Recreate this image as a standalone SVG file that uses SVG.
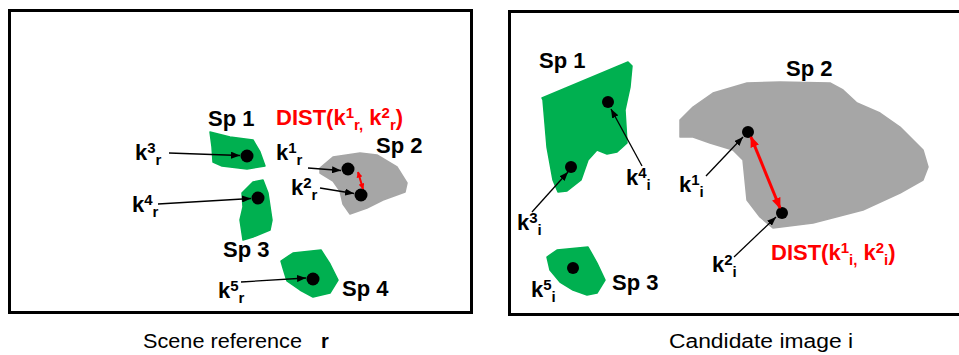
<svg xmlns="http://www.w3.org/2000/svg" width="959" height="355" viewBox="0 0 959 355">
<defs>
<style>
.frame{fill:none;stroke:#000;stroke-width:3}
.green{fill:#00B050;stroke:#00B050;stroke-width:1.5;stroke-linejoin:round}
.gray{fill:#A6A6A6;stroke:#A6A6A6;stroke-width:1.5;stroke-linejoin:round}
.dot{fill:#000}
.lbl{font-family:"Liberation Sans",Arial,sans-serif;font-weight:bold;font-size:22px;fill:#000}
.red{fill:#FF0000}
.s{font-size:15px}
.cap{font-family:"Liberation Sans",Arial,sans-serif;font-size:20px;fill:#000}
.ptr{stroke:#000;stroke-width:1.3;fill:none;marker-end:url(#ah)}
.dist{stroke:#FF0000;fill:none}
</style>
<marker id="ah" markerUnits="userSpaceOnUse" viewBox="0 0 9 7" markerWidth="9" markerHeight="7" refX="9" refY="3.5" orient="auto"><path d="M0,0 L9,3.5 L0,7 z" fill="#000"/></marker>
<marker id="rah" markerUnits="userSpaceOnUse" viewBox="0 0 11 9" markerWidth="11" markerHeight="9" refX="10" refY="4.5" orient="auto-start-reverse"><path d="M0,0 L11,4.5 L0,9 z" fill="#FF0000"/></marker>
<marker id="rahs" markerUnits="userSpaceOnUse" viewBox="0 0 6 6" markerWidth="6" markerHeight="6" refX="5.5" refY="3" orient="auto-start-reverse"><path d="M0,0 L6,3 L0,6 z" fill="#FF0000"/></marker>
</defs>
<rect width="959" height="355" fill="#fff"/>

<g id="panel-r">
<rect class="frame" x="9.5" y="10.5" width="462" height="302"/>
<g id="r-sp1"><path class="green" d="M210,132 L230,137 L253,140 L260,152 L265,166 L247,169 L222,166 L213,162 L212,147 Z"/><text class="lbl" x="208" y="126">Sp 1</text></g>
<g id="r-sp2"><path class="gray" d="M320,168 L333,157 L360,153 L377,155 L397,167 L407,183 L405,192 L383,200 L367,208 L350,214 L343,204 L340,191 L333,181 L320,173 Z"/><text class="lbl" x="376" y="153">Sp 2</text></g>
<g id="r-sp3"><path class="green" d="M242,193 L253,182 L263,180 L268,193 L272,220 L270,230 L253,237 L243,240 L240,220 L243,207 Z"/><text class="lbl" x="223" y="257">Sp 3</text></g>
<g id="r-sp4"><path class="green" d="M281,261 L293,253 L321,250 L330,264 L338,280 L330,293 L313,297 L300,290 L287,281 L283,268 Z"/><text class="lbl" x="342" y="296">Sp 4</text></g>
<g id="r-k3"><circle class="dot" cx="247" cy="156" r="6.5"/><text class="lbl" x="135" y="160">k<tspan class="s" dy="-7">3</tspan><tspan class="s" dy="12">r</tspan></text></g>
<g id="r-k1"><circle class="dot" cx="348" cy="169" r="6.5"/><text class="lbl" x="276" y="160">k<tspan class="s" dy="-7">1</tspan><tspan class="s" dy="12">r</tspan></text></g>
<g id="r-k2"><circle class="dot" cx="361" cy="195" r="6.5"/><text class="lbl" x="291" y="195">k<tspan class="s" dy="-7">2</tspan><tspan class="s" dy="12">r</tspan></text></g>
<g id="r-k4"><circle class="dot" cx="258" cy="198" r="6.5"/><text class="lbl" x="132" y="212">k<tspan class="s" dy="-7">4</tspan><tspan class="s" dy="12">r</tspan></text></g>
<g id="r-k5"><circle class="dot" cx="313" cy="279" r="6.5"/><text class="lbl" x="218" y="298">k<tspan class="s" dy="-7">5</tspan><tspan class="s" dy="12">r</tspan></text></g>
<g id="r-dist"><text class="lbl red" x="276" y="125">DIST(k<tspan class="s" dy="-7">1</tspan><tspan class="s" dy="12">r,</tspan><tspan dy="-5"> k</tspan><tspan class="s" dy="-7">2</tspan><tspan class="s" dy="12">r</tspan><tspan dy="-5">)</tspan></text></g>
</g>

<g id="panel-i">
<rect class="frame" x="509.5" y="11.5" width="452" height="303"/>
<g id="i-sp1"><path class="green" d="M542,98 L628,62 L632,66 L630,87 L625,110 L627,143 L617,152 L607,154 L597,150 L588,160 L581,180 L567,191 L558,192 L553,180 L547,147 L543,100 Z"/><text class="lbl" x="539" y="68">Sp 1</text></g>
<g id="i-sp2"><path class="gray" d="M680,120 L693,107 L713,93 L747,83 L780,82 L830,83 L843,90 L857,103 L880,113 L900,127 L913,140 L923,150 L928,167 L923,180 L900,193 L863,210 L813,223 L773,228 L760,217 L747,200 L745,180 L743,160 L733,150 L710,143 L693,137 L680,137 Z"/><text class="lbl" x="786" y="76">Sp 2</text></g>
<g id="i-sp3"><path class="green" d="M547,257 L557,250 L588,247 L597,263 L605,280 L597,293 L587,295 L573,290 L560,282 L550,270 Z"/><text class="lbl" x="612" y="290">Sp 3</text></g>
<g id="i-k4"><circle class="dot" cx="608" cy="102" r="6"/><text class="lbl" x="626" y="185">k<tspan class="s" dy="-7">4</tspan><tspan class="s" dy="12">i</tspan></text></g>
<g id="i-k3"><circle class="dot" cx="571" cy="167" r="6"/><text class="lbl" x="517" y="230">k<tspan class="s" dy="-7">3</tspan><tspan class="s" dy="12">i</tspan></text></g>
<g id="i-k1"><circle class="dot" cx="748" cy="132" r="6"/><text class="lbl" x="679" y="192">k<tspan class="s" dy="-7">1</tspan><tspan class="s" dy="12">i</tspan></text></g>
<g id="i-k2"><circle class="dot" cx="782" cy="213" r="6"/><text class="lbl" x="712" y="272">k<tspan class="s" dy="-7">2</tspan><tspan class="s" dy="12">i</tspan></text></g>
<g id="i-k5"><circle class="dot" cx="573" cy="268" r="6"/><text class="lbl" x="531" y="297">k<tspan class="s" dy="-7">5</tspan><tspan class="s" dy="12">i</tspan></text></g>
<g id="i-dist"><text class="lbl red" x="771" y="260">DIST(k<tspan class="s" dy="-7">1</tspan><tspan class="s" dy="12">i,</tspan><tspan dy="-5"> k</tspan><tspan class="s" dy="-7">2</tspan><tspan class="s" dy="12">i</tspan><tspan dy="-5">)</tspan></text></g>
</g>

<g id="connectors">
<line class="ptr" x1="169" y1="153" x2="240" y2="155.5"/>
<line class="ptr" x1="308" y1="168" x2="341" y2="170.5"/>
<line class="ptr" x1="320" y1="188" x2="354" y2="193.5"/>
<line class="ptr" x1="158" y1="204" x2="251" y2="198.5"/>
<line class="ptr" x1="241" y1="282" x2="306" y2="278"/>
<line class="dist" stroke-width="2" x1="358" y1="172" x2="363" y2="189" marker-start="url(#rahs)" marker-end="url(#rahs)"/>
<line class="ptr" x1="642" y1="166" x2="611" y2="109"/>
<line class="ptr" x1="532" y1="212" x2="568" y2="172"/>
<line class="ptr" x1="706" y1="176" x2="743" y2="137"/>
<line class="ptr" x1="734" y1="257" x2="776" y2="217"/>
<line class="dist" stroke-width="3" x1="751" y1="137" x2="780" y2="208" marker-start="url(#rah)" marker-end="url(#rah)"/>
</g>

<g id="captions">
<text class="cap" x="143" y="348" textLength="159" lengthAdjust="spacingAndGlyphs">Scene reference</text>
<text class="cap" x="321" y="348" font-weight="bold">r</text>
<text class="cap" x="669" y="348" textLength="184" lengthAdjust="spacingAndGlyphs">Candidate image i</text>
</g>
</svg>
